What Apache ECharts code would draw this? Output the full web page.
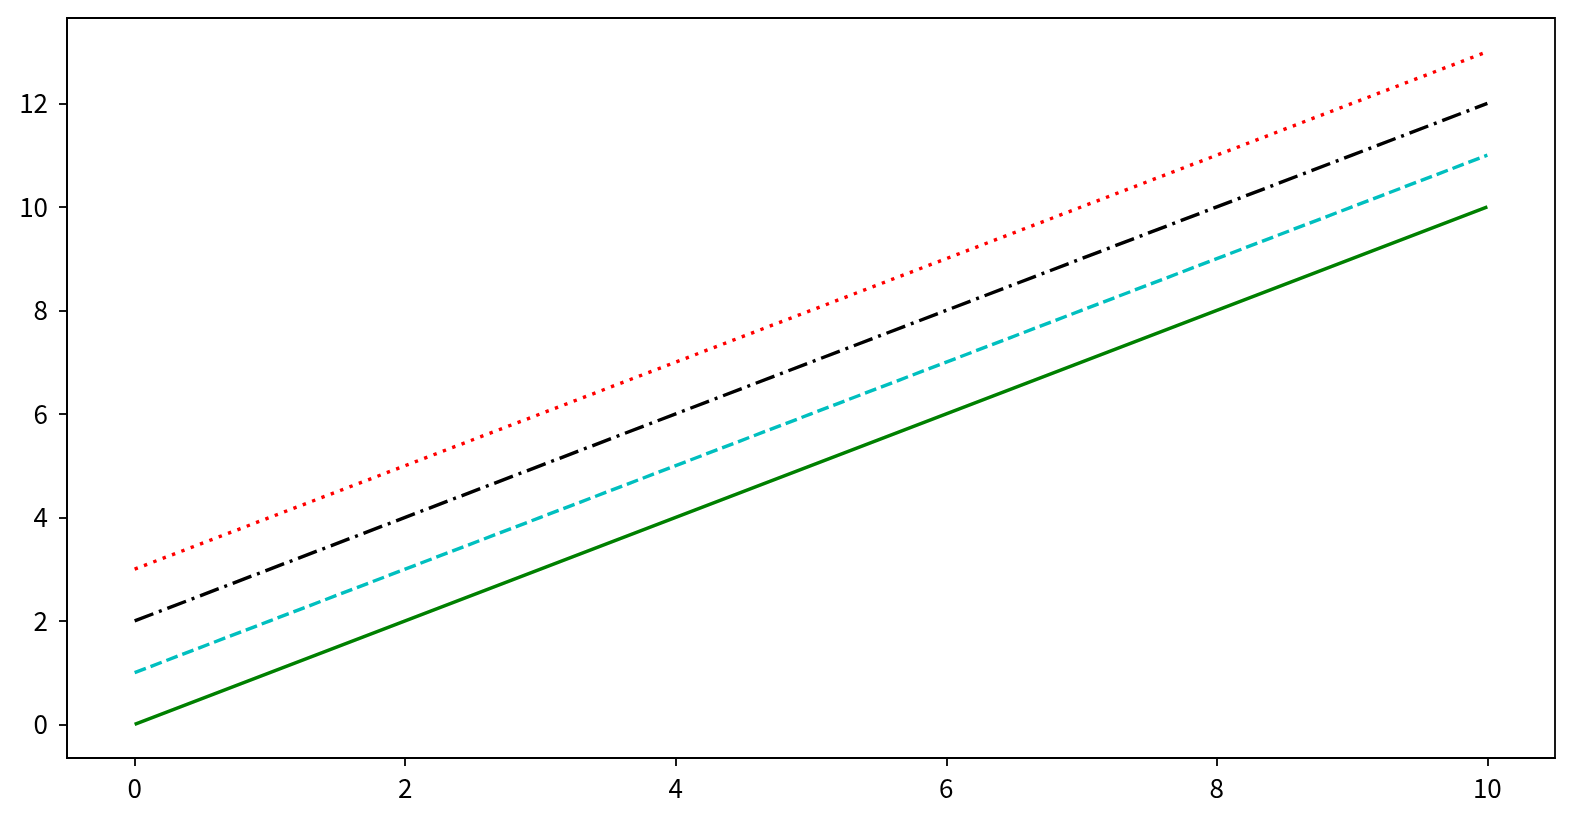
<!DOCTYPE html>
<html>
<head>
<meta charset="utf-8">
<script src="https://cdn.jsdelivr.net/npm/echarts@6/dist/echarts.min.js"></script>
<style>
html,body{margin:0;padding:0;background:#fff;}
#chart{width:1574px;height:823px;}
</style>
</head>
<body>
<div id="chart"></div>
<script>
const xValues = [0, 1, 2, 3, 4, 5, 6, 7, 8, 9, 10];
const greenValues = [0, 1, 2, 3, 4, 5, 6, 7, 8, 9, 10];
const cyanValues = [1, 2, 3, 4, 5, 6, 7, 8, 9, 10, 11];
const blackValues = [2, 3, 4, 5, 6, 7, 8, 9, 10, 11, 12];
const redValues = [3, 4, 5, 6, 7, 8, 9, 10, 11, 12, 13];
const xTicks = [0, 2, 4, 6, 8, 10];
const yTicks = [0, 2, 4, 6, 8, 10, 12];

const font = '"Noto Sans CJK JP", "Noto Sans", sans-serif';
function pairs(ys){ return xValues.map((x,i)=>[x, ys[i]]); }

const chart = echarts.init(document.getElementById('chart'));
chart.setOption({
  animation: false,
  grid: {left: 67, right: 19, top: 18, bottom: 65, show: true, borderColor: '#000', borderWidth: 1.8, backgroundColor: 'transparent'},
  xAxis: {
    type: 'value', min: -0.5, max: 10.5,
    splitLine: {show: false},
    axisLine: {show: true, onZero: false, lineStyle: {color: '#000', width: 1.8}},
    axisTick: {show: true, length: 8, lineStyle: {color: '#000', width: 1.8}, customValues: xTicks},
    axisLabel: {color: '#000', fontSize: 26, fontFamily: font, margin: 17, customValues: xTicks}
  },
  yAxis: {
    type: 'value', min: -0.65, max: 13.65,
    splitLine: {show: false},
    axisLine: {show: true, onZero: false, lineStyle: {color: '#000', width: 1.8}},
    axisTick: {show: true, length: 8, lineStyle: {color: '#000', width: 1.8}, customValues: yTicks},
    axisLabel: {color: '#000', fontSize: 26, fontFamily: font, margin: 19, customValues: yTicks}
  },
  series: [
    {type: 'line', data: pairs(greenValues), showSymbol: false, lineStyle: {color: '#008000', width: 3.4, type: 'solid'}},
    {type: 'line', data: pairs(cyanValues), showSymbol: false, lineStyle: {color: '#00bfbf', width: 3.4, type: [12, 5], cap: 'butt'}},
    {type: 'line', data: pairs(blackValues), showSymbol: false, lineStyle: {color: '#000000', width: 3.4, type: [20, 6, 3, 6], cap: 'butt'}},
    {type: 'line', data: pairs(redValues), showSymbol: false, lineStyle: {color: '#ff0000', width: 3.4, type: [3.4, 6.6], cap: 'butt'}}
  ]
});
</script>
</body>
</html>
